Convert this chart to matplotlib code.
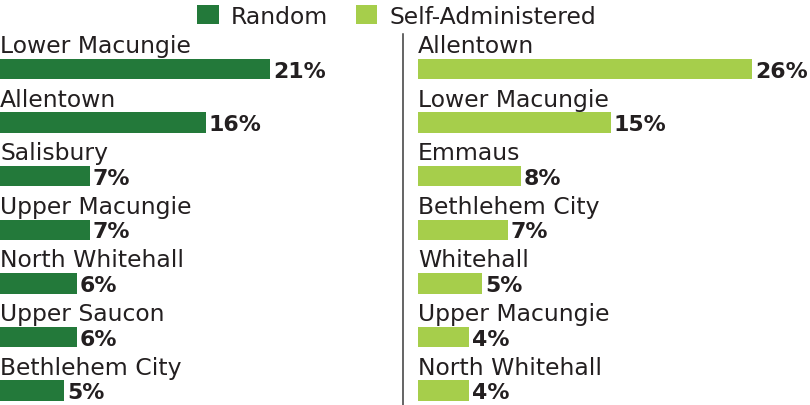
import matplotlib
matplotlib.use("Agg")
import matplotlib.pyplot as plt
from matplotlib.patches import Patch
from matplotlib.lines import Line2D

# ---- data ----
random_towns = ["Lower Macungie", "Allentown", "Salisbury", "Upper Macungie",
                "North Whitehall", "Upper Saucon", "Bethlehem City"]
random_pct = [21, 16, 7, 7, 6, 6, 5]

self_towns = ["Allentown", "Lower Macungie", "Emmaus", "Bethlehem City",
              "Whitehall", "Upper Macungie", "North Whitehall"]
self_pct = [26, 15, 8, 7, 5, 4, 4]

series_names = ["Random", "Self-Administered"]

# ---- style ----
DARK = "#23793a"
LIGHT = "#a6ce4b"
TXT = "#231f20"
FONT = "DejaVu Sans"
FS = 16.9

W, H = 810, 406
fig = plt.figure(figsize=(W / 100, H / 100), dpi=100)
fig.patch.set_facecolor("white")

px_per_pct = 12.85
pitch = 53.6
ax_top_px = 35
ax_h_px = H - ax_top_px
row0_px = 70  # centre of first bar from top
top_units = (row0_px - ax_top_px) / pitch
bot_units = ax_h_px / pitch - top_units


def panel(left_px, right_px, towns, vals, color):
    ax = fig.add_axes([left_px / W, 0, (right_px - left_px) / W, ax_h_px / H])
    ax.set_xlim(0, (right_px - left_px) / px_per_pct)
    ax.set_ylim(bot_units, -top_units)
    ys = list(range(len(towns)))
    ax.barh(ys, vals, height=20.5 / pitch, color=color, edgecolor="none")
    for y, t, v in zip(ys, towns, vals):
        ax.text(0, y - 17 / pitch, t, ha="left", va="baseline", fontsize=FS,
                family=FONT, color=TXT, clip_on=False)
        ax.text(v + 3 / px_per_pct, y + 0.03, f"{v}%", ha="left", va="center",
                fontsize=15.8, fontweight="bold", family=FONT, color=TXT,
                clip_on=False)
    ax.axis("off")
    return ax


panel(0, 400, random_towns, random_pct, DARK)
panel(418, 810, self_towns, self_pct, LIGHT)

# divider
fig.add_artist(Line2D([403 / W, 403 / W], [0, 1 - ax_top_px / H],
                      transform=fig.transFigure, color="#3a3a3a", lw=1.1))

# legend
handles = [Patch(facecolor=DARK, edgecolor="none"),
           Patch(facecolor=LIGHT, edgecolor="none")]
leg = fig.legend(handles, series_names, loc="center",
                 bbox_to_anchor=(396.5 / W, 1 - 17 / H), ncol=2, frameon=False,
                 prop={"family": FONT, "size": FS},
                 handlelength=0.92, handleheight=0.85, handletextpad=0.5,
                 columnspacing=1.2, borderpad=0, borderaxespad=0)
for t in leg.get_texts():
    t.set_color(TXT)

fig.savefig("out.png", dpi=100)
